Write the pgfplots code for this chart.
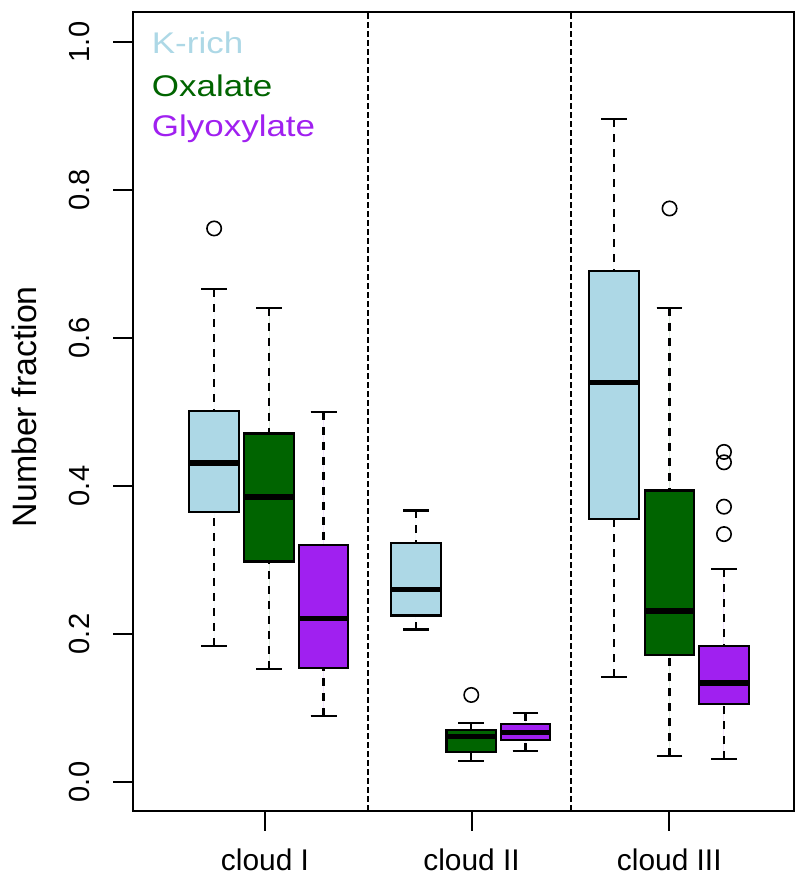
\documentclass[border=0pt]{standalone}
\usepackage{pgfplots}
\pgfplotsset{compat=1.18}
\usepgfplotslibrary{statistics}
\usepackage{graphicx}
\usepackage{fontspec}
\setmainfont{Liberation Sans}
\definecolor{kblue}{HTML}{ADD8E6}
\definecolor{oxgreen}{HTML}{006400}
\definecolor{glypurple}{HTML}{A020F0}
\pgfplotsset{
  boxplot/draw/lower whisker/.code={%
    \draw[dash pattern=on 4bp off 3.5bp] (boxplot cs:\pgfplotsboxplotvalue{lower whisker}) -- (boxplot cs:\pgfplotsboxplotvalue{lower quartile});
    \draw (boxplot whisker cs:\pgfplotsboxplotvalue{lower whisker},0) -- (boxplot whisker cs:\pgfplotsboxplotvalue{lower whisker},1);
  },
  boxplot/draw/upper whisker/.code={%
    \draw[dash pattern=on 4bp off 3.5bp] (boxplot cs:\pgfplotsboxplotvalue{upper whisker}) -- (boxplot cs:\pgfplotsboxplotvalue{upper quartile});
    \draw (boxplot whisker cs:\pgfplotsboxplotvalue{upper whisker},0) -- (boxplot whisker cs:\pgfplotsboxplotvalue{upper whisker},1);
  },
  mybox/.style={
    draw=black, line width=1.1bp, mark=o, mark size=3.6bp,
    mark options={draw=black, fill=none, solid, line width=0.8bp},
    boxplot/draw direction=y,
    boxplot/box extend=0.9, boxplot/whisker extend=0.47,
    boxplot/every median/.style={line width=2.8bp, black},
  },
}
\begin{document}
\begin{tikzpicture}
\path[use as bounding box] (0,0) rectangle (397.5bp,441bp);
\begin{axis}[
  at={(66.65bp,35.65bp)}, anchor=south west,
  scale only axis, width=330.35bp, height=399.2bp,
  xmin=0, xmax=12.013, ymin=-0.03878, ymax=1.0401,
  axis line style={line width=1bp},
  tick style={line width=1bp, black},
  tick align=outside, major tick length=10bp,
  xtick pos=left, ytick pos=left,
  xtick={2.395,6.151,9.745},
  xticklabels={cloud I, cloud II, cloud III},
  ytick={0,0.2,0.4,0.6,0.8,1.0},
  yticklabels={0.0,0.2,0.4,0.6,0.8,1.0},
  xticklabel style={font=\fontsize{15}{18}\selectfont, anchor=base, yshift=-20bp},
  yticklabel style={font=\fontsize{14.6}{17}\selectfont, xshift=-12bp, rotate=90, anchor=base},
  ylabel={Number fraction},
  every axis y label/.style={at={(rel axis cs:-0.14576,0.506)}, rotate=90, anchor=base, font=\fontsize{17}{20}\selectfont},
  clip=false,
]
\addplot[black, line width=0.8bp, dash pattern=on 3bp off 1.5bp] coordinates {(4.262,-0.03878) (4.262,1.0401)};
\addplot[black, line width=0.8bp, dash pattern=on 3bp off 1.5bp] coordinates {(7.958,-0.03878) (7.958,1.0401)};
% cloud I
\addplot[mybox, fill=kblue, boxplot prepared={draw position=1.47, lower whisker=0.184, lower quartile=0.365, median=0.431, upper quartile=0.501, upper whisker=0.666}] coordinates {(0,0.748)};
\addplot[mybox, fill=oxgreen, boxplot prepared={draw position=2.47, lower whisker=0.153, lower quartile=0.298, median=0.385, upper quartile=0.471, upper whisker=0.641}] coordinates {};
\addplot[mybox, fill=glypurple, boxplot prepared={draw position=3.46, lower whisker=0.0896, lower quartile=0.154, median=0.221, upper quartile=0.320, upper whisker=0.500}] coordinates {};
% cloud II
\addplot[mybox, fill=kblue, boxplot prepared={draw position=5.14, lower whisker=0.206, lower quartile=0.225, median=0.260, upper quartile=0.3225, upper whisker=0.367}] coordinates {};
\addplot[mybox, fill=oxgreen, boxplot prepared={draw position=6.145, lower whisker=0.0288, lower quartile=0.041, median=0.0613, upper quartile=0.0703, upper whisker=0.080}] coordinates {(0,0.1176)};
\addplot[mybox, fill=glypurple, boxplot prepared={draw position=7.13, lower whisker=0.0423, lower quartile=0.0572, median=0.0667, upper quartile=0.0784, upper whisker=0.0928}] coordinates {};
% cloud III
\addplot[mybox, fill=kblue, boxplot prepared={draw position=8.74, lower whisker=0.142, lower quartile=0.355, median=0.540, upper quartile=0.6905, upper whisker=0.896}] coordinates {};
\addplot[mybox, fill=oxgreen, boxplot prepared={draw position=9.75, lower whisker=0.0347, lower quartile=0.172, median=0.231, upper quartile=0.394, upper whisker=0.641}] coordinates {(0,0.775)};
\addplot[mybox, fill=glypurple, boxplot prepared={draw position=10.74, lower whisker=0.0306, lower quartile=0.105, median=0.134, upper quartile=0.184, upper whisker=0.288}] coordinates {(0,0.446) (0,0.432) (0,0.372) (0,0.335)};
\end{axis}
\node[anchor=base west, inner sep=0pt, text=kblue, font=\fontsize{15}{18}\selectfont] at (75.75bp,414.35bp) {\scalebox{1.17}[1]{K-rich}};
\node[anchor=base west, inner sep=0pt, text=oxgreen, font=\fontsize{15}{18}\selectfont] at (75.75bp,392.65bp) {\scalebox{1.17}[1]{Oxalate}};
\node[anchor=base west, inner sep=0pt, text=glypurple, font=\fontsize{15}{18}\selectfont] at (75.75bp,372.65bp) {\scalebox{1.17}[1]{Glyoxylate}};
\end{tikzpicture}
\end{document}
